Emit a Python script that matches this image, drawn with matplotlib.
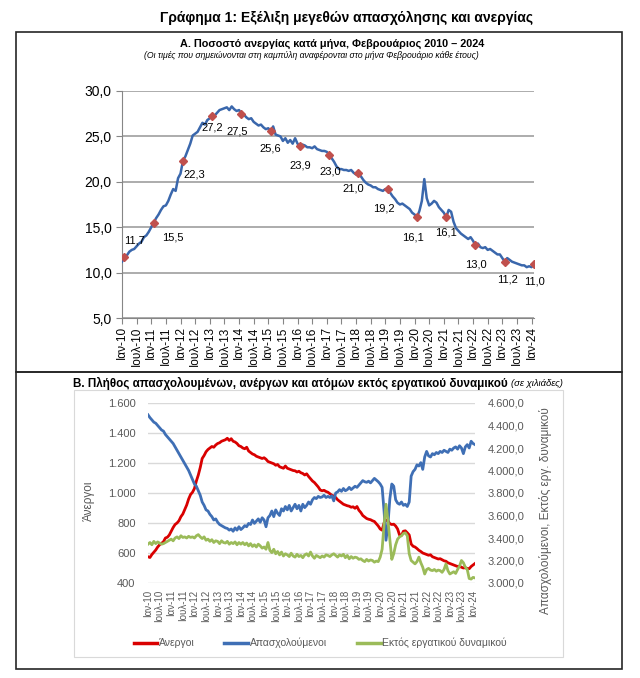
import matplotlib
matplotlib.use('Agg')
import matplotlib.pyplot as plt
from matplotlib.patches import Rectangle
from matplotlib.lines import Line2D
from matplotlib.ticker import FuncFormatter

plt.rcParams['font.family'] = ['Liberation Sans', 'DejaVu Sans']

# --- data -------------------------------------------------------------
# Panel A: unemployment rate %, monthly Jan 2010 - Feb 2024
rate = [
    11.2, 11.7, 11.9, 12.3, 12.5, 12.6, 12.9, 13.2, 13.4, 13.9, 14.1, 14.5,
    15.0, 15.5, 16.0, 16.4, 16.9, 17.3, 17.4, 17.9, 18.6, 19.2, 19.0, 20.4,
    20.9, 22.3, 22.8, 23.5, 24.2, 25.1, 25.3, 25.5, 26.0, 26.5, 26.3, 26.8,
    27.0, 27.2, 27.3, 27.6, 27.9, 28.0, 28.1, 28.2, 27.9, 28.3, 28.0, 27.8,
    27.9, 27.5, 27.4, 27.1, 26.9, 27.0, 26.6, 26.4, 26.2, 26.3, 26.0, 25.8,
    25.9, 25.6, 26.1, 25.2, 25.1, 25.0, 24.5, 24.8, 24.3, 24.6, 24.2, 24.8,
    24.2, 23.9, 24.1, 24.0, 23.8, 23.8, 23.7, 23.9, 23.6, 23.5, 23.4, 23.4,
    23.3, 23.0, 22.6, 22.2, 21.7, 21.4, 21.4, 21.3, 21.3, 21.2, 21.3, 21.0,
    20.8, 21.0, 20.6, 20.2, 19.9, 19.7, 19.6, 19.4, 19.4, 19.2, 19.1, 19.0,
    19.2, 19.2, 18.8, 18.4, 18.1, 17.7, 17.5, 17.6, 17.4, 17.2, 17.0, 16.6,
    16.4, 16.1, 16.8, 17.9, 20.3, 18.2, 17.4, 17.6, 17.9, 17.7, 17.2, 16.9,
    16.6, 16.1, 16.9, 16.7, 15.6, 14.9, 14.6, 14.3, 14.1, 13.9, 13.7, 13.9,
    13.5, 13.0, 13.2, 12.8, 12.7, 12.8, 12.5, 12.6, 12.4, 12.2, 12.0, 12.0,
    11.6, 11.2, 11.6, 11.4, 11.2, 11.1, 11.0, 10.9, 10.8, 10.8, 10.6, 10.7,
    10.6, 11.0,
]

# Panel B: thousands, monthly Jan 2010 - Feb 2024
unemployed = [
    575, 570, 590, 605, 620, 640, 655, 665, 675, 700, 705, 720,
    745, 770, 790, 800, 815, 842, 860, 890, 920, 960, 990, 1005,
    1030, 1080, 1120, 1170, 1230, 1250, 1275, 1290, 1300, 1310, 1305, 1320,
    1330, 1335, 1345, 1350, 1355, 1365, 1350, 1362, 1345, 1340, 1330, 1315,
    1310, 1300, 1295, 1305, 1280, 1270, 1260, 1255, 1245, 1240, 1235, 1230,
    1235, 1225, 1210, 1205, 1200, 1195, 1185, 1190, 1175, 1170, 1165, 1180,
    1165, 1160, 1155, 1150, 1148, 1140, 1145, 1135, 1130, 1120, 1128, 1110,
    1095, 1080, 1070, 1055, 1040, 1020, 1015, 1018, 1010, 1005, 995, 985,
    980, 970, 955, 945, 935, 925, 920, 915, 912, 905, 908, 898,
    910, 885, 870, 850, 840, 830, 825, 822, 815, 810, 795, 780,
    760, 752, 800, 820, 815, 795, 790, 792, 780, 760, 720, 718,
    745, 748, 735, 720, 660, 645, 640, 630, 618, 610, 600, 595,
    590, 585, 588, 575, 570, 565, 560, 562, 555, 548, 545, 535,
    530, 525, 520, 515, 510, 512, 505, 500, 502, 497, 495, 510,
    520, 530,
]
employed = [
    4495, 4470, 4450, 4430, 4420, 4400, 4380, 4360, 4350, 4320, 4300, 4280,
    4260, 4240, 4210, 4180, 4150, 4120, 4090, 4060, 4030, 4000, 3960, 3920,
    3880, 3860, 3820, 3780, 3720, 3690, 3650, 3640, 3610, 3590, 3560, 3570,
    3540, 3520, 3510, 3500, 3490, 3485, 3470, 3480, 3460, 3490, 3470, 3500,
    3475, 3490, 3510, 3500, 3530, 3520, 3560, 3530, 3550, 3570, 3540, 3580,
    3560, 3500, 3580, 3600, 3640, 3590, 3650, 3620, 3600, 3660, 3640, 3680,
    3650, 3690, 3640, 3670, 3700, 3660, 3690, 3640, 3700, 3670, 3690, 3720,
    3700, 3740, 3760, 3750, 3770, 3760, 3765, 3780, 3760, 3770, 3760, 3775,
    3730, 3800, 3810, 3830, 3815, 3840, 3820, 3830, 3850, 3830, 3845, 3860,
    3850, 3870, 3890, 3910, 3900, 3895, 3905, 3890, 3910, 3930, 3915, 3900,
    3880, 3850, 3640, 3380, 3520, 3750, 3880, 3860, 3740, 3710, 3700, 3720,
    3690, 3700, 3680, 3720, 3950, 3990, 4010, 4050, 4040, 4070, 4010, 4120,
    4170, 4130, 4120, 4150, 4140, 4160, 4150, 4170, 4160, 4180, 4170, 4160,
    4190, 4180, 4200, 4210, 4190, 4220, 4200, 4150, 4210, 4230, 4200, 4260,
    4240, 4230,
]
outside_lf = [
    3345, 3360, 3340, 3370, 3350, 3365, 3355, 3345, 3350, 3360, 3370, 3380,
    3390, 3375, 3400, 3410, 3395, 3420, 3405, 3410, 3400, 3415, 3405, 3410,
    3400, 3420, 3430, 3410, 3395, 3410, 3380, 3390, 3370, 3385, 3360, 3375,
    3370, 3350, 3375, 3360, 3355, 3370, 3345, 3360, 3350, 3365, 3340, 3360,
    3345, 3360, 3340, 3355, 3330, 3350, 3325, 3340, 3320, 3345, 3330, 3310,
    3320, 3300, 3360, 3290, 3270, 3300, 3260, 3280, 3250, 3275, 3240, 3260,
    3250, 3235, 3265, 3240, 3230, 3255, 3235, 3245, 3225, 3250, 3260, 3240,
    3275, 3240, 3220, 3245, 3235, 3225, 3240, 3230, 3250, 3245, 3235, 3250,
    3260, 3245, 3230, 3250, 3240, 3255, 3225, 3245, 3215, 3235, 3220, 3230,
    3225, 3210, 3215, 3200, 3190, 3210, 3195, 3205, 3200, 3185, 3195, 3190,
    3230, 3300, 3520, 3700, 3560, 3380, 3210, 3260, 3340, 3390, 3410, 3420,
    3440, 3445, 3420, 3260, 3200, 3185, 3170, 3190, 3230, 3180, 3140, 3080,
    3120, 3130, 3115, 3110, 3120, 3105, 3115, 3110, 3095, 3120, 3170, 3110,
    3080, 3090, 3100, 3085, 3120, 3150, 3200, 3180, 3140, 3120, 3040, 3035,
    3050, 3045,
]

years = list(range(2010, 2025))
tick_labels = []
for y in years:
    tick_labels.append('Ιαν-%02d' % (y % 100))
    if y < 2024:
        tick_labels.append('Ιουλ-%02d' % (y % 100))

# label offsets (pixels) for the February data labels
lab_off = [(10, 17), (19, -15), (11, -14), (0, -11), (-4, -18), (0, -18),
           (0, -19), (1, -17), (-5, -16), (-4, -19), (-4, -20), (0, -15),
           (0, -19), (3, -18), (0, -18)]

W, H = 640, 678


def fx(px):
    return px / W


def fy(py):
    return 1 - py / H


def comma1(v, pos=None):
    return ('%.1f' % v).replace('.', ',')


def thousands(v, pos=None):
    return '{:,.0f}'.format(v).replace(',', '.')


def thousands1(v, pos=None):
    return '{:,.1f}'.format(v).replace(',', 'X').replace('.', ',').replace('X', '.')


fig = plt.figure(figsize=(6.4, 6.78), dpi=100)

# outer frames
for top, bot in [(32, 372), (372, 669)]:
    fig.add_artist(Rectangle((fx(16), fy(bot)), fx(622) - fx(16), fy(top) - fy(bot),
                             transform=fig.transFigure, fill=False, lw=1.2, ec='#262626'))
# light inner frame of chart B
fig.add_artist(Rectangle((fx(74), fy(657)), fx(563) - fx(74), fy(390) - fy(657),
                         transform=fig.transFigure, fill=False, lw=0.8, ec='#D9D9D9'))

fig.text(fx(347), fy(18), 'Γράφημα 1: Εξέλιξη μεγεθών απασχόλησης και ανεργίας',
         ha='center', va='center', fontsize=10, fontweight='bold')
fig.text(fx(332), fy(44), 'Α. Ποσοστό ανεργίας κατά μήνα, Φεβρουάριος 2010 – 2024',
         ha='center', va='center', fontsize=7.8, fontweight='bold')
fig.text(fx(311), fy(55), '(Οι τιμές που σημειώνονται στη καμπύλη αναφέρονται στο μήνα Φεβρουάριο κάθε έτους)',
         ha='center', va='center', fontsize=6.2, style='italic')

# --- panel A -------------------------------------------------------------
axA = fig.add_axes([fx(122), fy(318), fx(534) - fx(122), fy(91) - fy(318)])
xs = list(range(len(rate)))
axA.plot(xs, rate, color='#3A67AC', lw=1.8, zorder=3)
feb = [1 + 12 * k for k in range(len(years))]
axA.plot(feb, [rate[i] for i in feb], 'D', color='#C0504D', ms=4.5, zorder=4)
for i, (dx, dy) in zip(feb, lab_off):
    axA.annotate(comma1(rate[i]), (i, rate[i]), xytext=(dx, dy), textcoords='offset pixels',
                 ha='center', va='center', fontsize=8, zorder=5)
axA.set_xlim(0, 169)
axA.set_ylim(5, 30)
axA.set_yticks(range(5, 31, 5))
axA.yaxis.set_major_formatter(FuncFormatter(comma1))
axA.set_xticks(range(0, 169, 6))
axA.set_xticklabels(tick_labels, rotation=90, fontsize=8.5)
axA.tick_params(axis='y', labelsize=10, length=4, color='#868686')
axA.tick_params(axis='x', length=4, color='#868686', pad=2)
axA.grid(axis='y', color='#A6A6A6', lw=1.3)
axA.set_axisbelow(True)
for s in ['top', 'right']:
    axA.spines[s].set_visible(False)
for s in ['left', 'bottom']:
    axA.spines[s].set_color('#868686')

# --- panel B -------------------------------------------------------------
fig.text(fx(73), fy(383), 'Β. Πλήθος απασχολουμένων, ανέργων και ατόμων εκτός εργατικού δυναμικού',
         ha='left', va='center', fontsize=8.35, fontweight='bold')
fig.text(fx(511), fy(383), '(σε χιλιάδες)', ha='left', va='center', fontsize=6.8, style='italic')

gray = '#595959'
axB = fig.add_axes([fx(148), fy(583), fx(475) - fx(148), fy(403) - fy(583)])
axB2 = axB.twinx()
xb = list(range(len(unemployed)))
axB.plot(xb, unemployed, color='#D90000', lw=2)
axB2.plot(xb, employed, color='#3F6FB5', lw=2)
axB2.plot(xb, outside_lf, color='#9BBB59', lw=2)
axB.set_xlim(0, 169)
axB.set_ylim(400, 1600)
axB.set_yticks(range(400, 1601, 200))
axB.yaxis.set_major_formatter(FuncFormatter(thousands))
axB2.set_ylim(3000, 4600)
axB2.set_yticks(range(3000, 4601, 200))
axB2.yaxis.set_major_formatter(FuncFormatter(thousands1))
axB.set_xticks(range(0, 169, 6))
axB.set_xticklabels(tick_labels, rotation=90, fontsize=7, color=gray)
axB.tick_params(axis='x', length=0, pad=5)
axB.tick_params(axis='y', length=0, labelsize=8, labelcolor=gray, pad=9)
axB2.tick_params(axis='y', length=0, labelsize=8, labelcolor=gray, pad=9)
axB.grid(axis='y', color='#D9D9D9', lw=1)
for a in (axB, axB2):
    for s in a.spines.values():
        s.set_visible(False)

fig.text(fx(89), fy(501), 'Άνεργοι', rotation=90, ha='center', va='center', fontsize=8.5, color=gray)
fig.text(fx(546), fy(511), 'Απασχολούμενοι, Εκτός εργ. δυναμικού', rotation=90,
         ha='center', va='center', fontsize=8.5, color=gray)

handles = [Line2D([], [], color='#D90000', lw=2.5),
           Line2D([], [], color='#3F6FB5', lw=2.5),
           Line2D([], [], color='#9BBB59', lw=2.5)]
fig.legend(handles, ['Άνεργοι', 'Απασχολούμενοι', 'Εκτός εργατικού δυναμικού'],
           loc='center', bbox_to_anchor=(fx(320), fy(643)), ncol=3, frameon=False,
           fontsize=7.5, handlelength=2.3, handletextpad=0.1, columnspacing=2.9,
           labelcolor=gray)

fig.savefig('out.png', dpi=100)
